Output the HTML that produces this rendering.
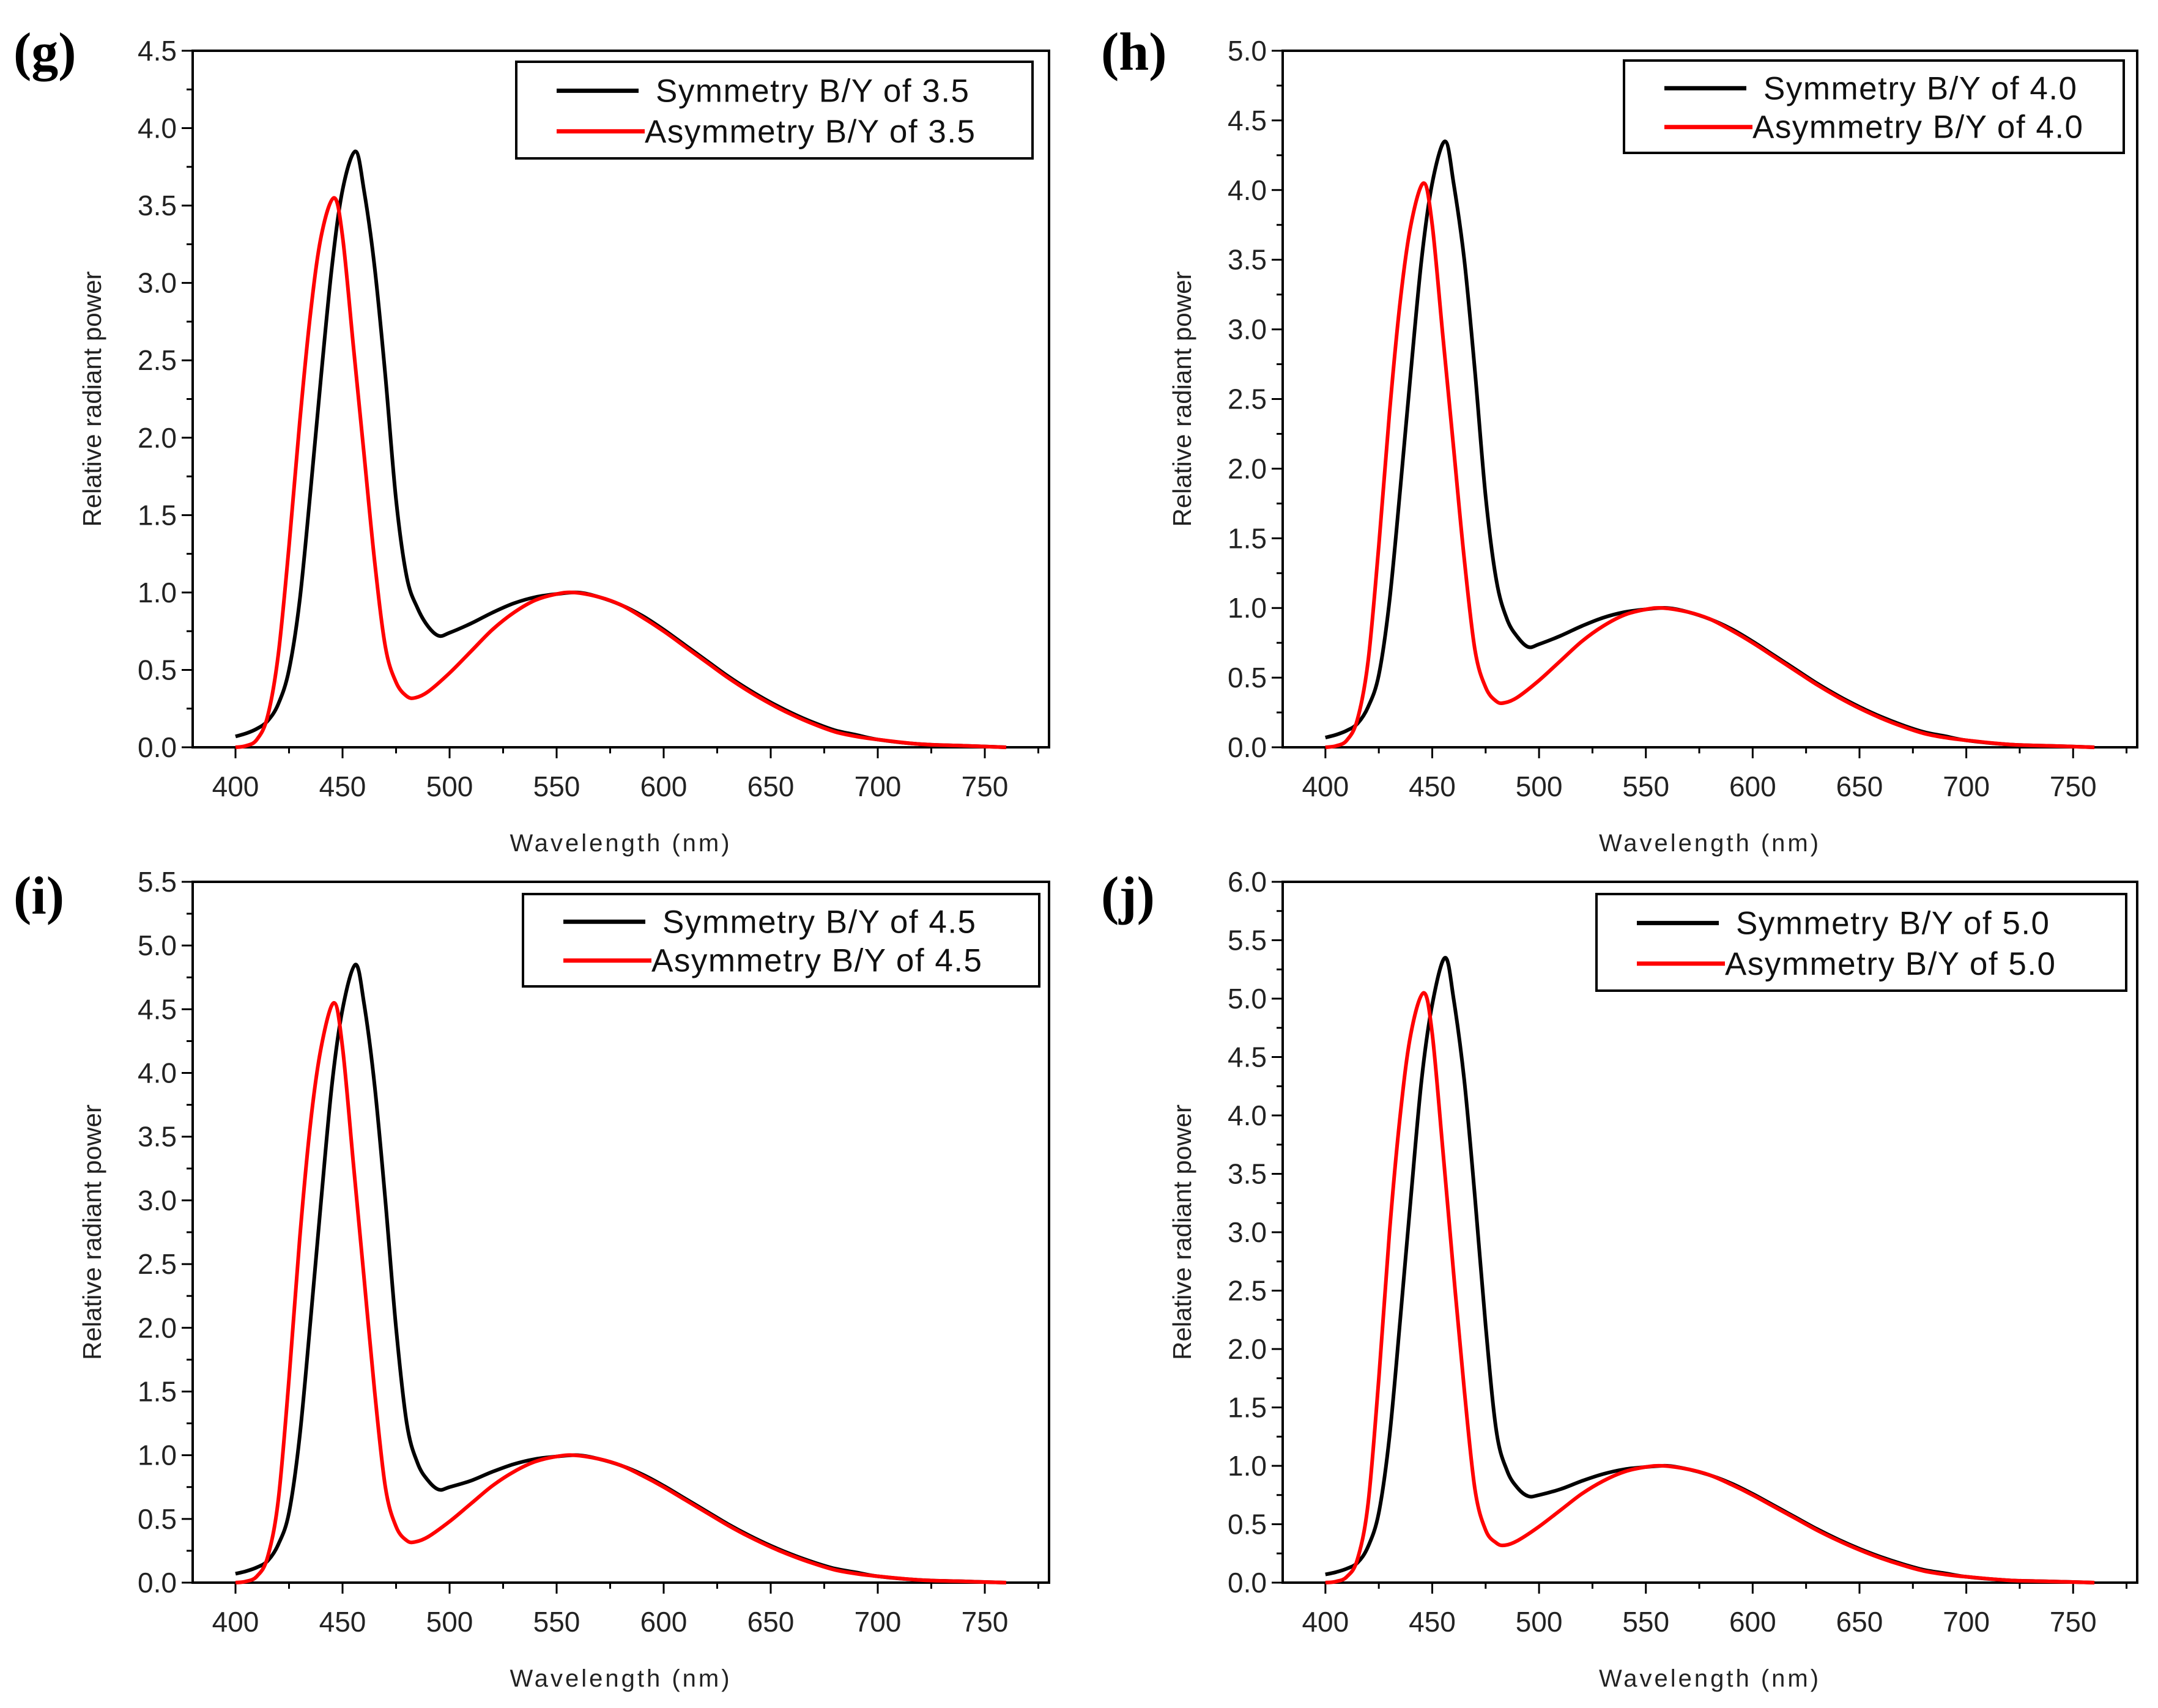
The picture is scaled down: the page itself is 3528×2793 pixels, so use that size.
<!DOCTYPE html>
<html><head><meta charset="utf-8"><style>
html,body{margin:0;padding:0;background:#fff;}
svg{display:block;font-family:"Liberation Sans",Arial,sans-serif;}
</style></head><body>
<svg id="fig" width="3528" height="2793" viewBox="0 0 3528 2793" xmlns="http://www.w3.org/2000/svg"></svg>
<script>
const wlSym=[400,405,410,415,420,425,430,435,440,445,450,456,460,465,470,475,480,485,490,495,500,510,520,530,540,550,560,570,580,590,600,610,620,630,640,650,660,670,680,690,700,720,740,760];
const symG=[0.07,0.09,0.12,0.17,0.28,0.5,0.95,1.65,2.4,3.1,3.6,3.85,3.6,3.1,2.4,1.6,1.1,0.9,0.78,0.72,0.74,0.8,0.87,0.93,0.97,0.99,1.0,0.97,0.92,0.85,0.76,0.66,0.56,0.46,0.37,0.29,0.22,0.16,0.11,0.08,0.05,0.02,0.01,0.0];
const symH=[0.07,0.09,0.12,0.17,0.29,0.52,1.05,1.85,2.7,3.5,4.05,4.35,4.05,3.5,2.7,1.8,1.2,0.92,0.79,0.72,0.74,0.8,0.87,0.93,0.97,0.99,1.0,0.97,0.92,0.85,0.76,0.66,0.56,0.46,0.37,0.29,0.22,0.16,0.11,0.08,0.05,0.02,0.01,0.0];
const symI=[0.07,0.09,0.12,0.17,0.3,0.55,1.15,2.05,3.0,3.9,4.5,4.85,4.55,3.9,3.0,2.0,1.25,0.94,0.8,0.73,0.75,0.8,0.87,0.93,0.97,0.99,1.0,0.97,0.92,0.85,0.76,0.66,0.56,0.46,0.37,0.29,0.22,0.16,0.11,0.08,0.05,0.02,0.01,0.0];
const symJ=[0.07,0.09,0.12,0.17,0.31,0.6,1.25,2.25,3.3,4.3,4.95,5.35,5.0,4.3,3.3,2.2,1.3,0.96,0.81,0.74,0.75,0.8,0.87,0.93,0.97,0.99,1.0,0.97,0.92,0.85,0.76,0.66,0.56,0.46,0.37,0.29,0.22,0.16,0.11,0.08,0.05,0.02,0.01,0.0];
const wlAsym=[400,405,410,415,420,425,430,435,440,446,450,455,460,465,470,475,480,484,490,500,510,520,530,540,550,558,570,580,590,600,610,620,630,640,650,660,670,680,690,700,720,740,760];
const asymG=[0,0.01,0.05,0.2,0.6,1.3,2.1,2.8,3.3,3.55,3.3,2.6,1.9,1.2,0.65,0.42,0.33,0.32,0.36,0.48,0.62,0.76,0.87,0.95,0.99,1.0,0.97,0.92,0.84,0.75,0.65,0.55,0.45,0.36,0.28,0.21,0.15,0.1,0.07,0.05,0.02,0.01,0];
const asymH=[0,0.01,0.05,0.2,0.62,1.45,2.4,3.2,3.75,4.05,3.75,2.95,2.15,1.35,0.7,0.43,0.33,0.32,0.36,0.48,0.62,0.76,0.87,0.95,0.99,1.0,0.97,0.92,0.84,0.75,0.65,0.55,0.45,0.36,0.28,0.21,0.15,0.1,0.07,0.05,0.02,0.01,0];
const asymI=[0,0.01,0.05,0.2,0.65,1.6,2.7,3.6,4.2,4.55,4.2,3.3,2.4,1.5,0.75,0.44,0.33,0.32,0.36,0.48,0.62,0.76,0.87,0.95,0.99,1.0,0.97,0.92,0.84,0.75,0.65,0.55,0.45,0.36,0.28,0.21,0.15,0.1,0.07,0.05,0.02,0.01,0];
const asymJ=[0,0.01,0.05,0.2,0.68,1.75,3.0,4.0,4.7,5.05,4.7,3.7,2.65,1.65,0.8,0.45,0.34,0.32,0.36,0.48,0.62,0.76,0.87,0.95,0.99,1.0,0.97,0.92,0.84,0.75,0.65,0.55,0.45,0.36,0.28,0.21,0.15,0.1,0.07,0.05,0.02,0.01,0];
const xTicks=[400,450,500,550,600,650,700,750];
const ratios=["3.5","4.0","4.5","5.0"];
const yMaxes=[4.5,5.0,5.5,6.0];
const panelLabels=["(g)","(h)","(i)","(j)"];

const NS="http://www.w3.org/2000/svg";
const svg=document.getElementById('fig');
function mk(tag,attrs,parent,text){const e=document.createElementNS(NS,tag);for(const k in attrs)e.setAttribute(k,attrs[k]);if(text!==undefined)e.textContent=text;(parent||svg).appendChild(e);return e;}
const layouts=[
 {L:315,R:1715,T:83,B:1222,lab:[22,100],leg:[844,101,1688,259]},
 {L:2097,R:3494,T:83,B:1222,lab:[1800,100],leg:[2655,99,3472,250]},
 {L:315,R:1715,T:1442,B:2588,lab:[22,1480],leg:[855,1462,1699,1613]},
 {L:2097,R:3494,T:1442,B:2588,lab:[1800,1480],leg:[2610,1462,3476,1620]}
];
const symData=[symG,symH,symI,symJ], asymData=[asymG,asymH,asymI,asymJ];
function smooth(pts){let d='M'+pts[0][0].toFixed(1)+','+pts[0][1].toFixed(1);
 for(let i=0;i<pts.length-1;i++){const p0=pts[Math.max(0,i-1)],p1=pts[i],p2=pts[i+1],p3=pts[Math.min(pts.length-1,i+2)];
  const c1=[p1[0]+(p2[0]-p0[0])/6,p1[1]+(p2[1]-p0[1])/6],c2=[p2[0]-(p3[0]-p1[0])/6,p2[1]-(p3[1]-p1[1])/6];
  d+=' C'+c1[0].toFixed(1)+','+c1[1].toFixed(1)+' '+c2[0].toFixed(1)+','+c2[1].toFixed(1)+' '+p2[0].toFixed(1)+','+p2[1].toFixed(1);}
 return d;}
layouts.forEach((Lo,pi)=>{
 const g=mk('g',{});
 
 
 const ymax=yMaxes[pi];
 const X=v=>Lo.L+(v-380)/(780-380)*(Lo.R-Lo.L);
 const Y=v=>Lo.B-v/ymax*(Lo.B-Lo.T);
 for(let v=400;v<=775;v+=25){const maj=v%50===0;mk('line',{x1:X(v),x2:X(v),y1:Lo.B,y2:Lo.B+(maj?18:10),stroke:'#000','stroke-width':3},g);}
 xTicks.forEach(v=>{const t=mk('text',{x:X(v),y:Lo.B+80,'font-size':46,'text-anchor':'middle',fill:'#222'},g,String(v));
  
  });
 for(let k=0;k<=Math.round(ymax*4);k++){const v=k*0.25;const maj=k%2===0;
  mk('line',{x1:Lo.L,x2:Lo.L-(maj?18:10),y1:Y(v),y2:Y(v),stroke:'#000','stroke-width':3},g);
  if(maj){const t=mk('text',{x:Lo.L-26,y:Y(v)+16,'font-size':46,'text-anchor':'end',fill:'#222'},g,v.toFixed(1));
   
   }}
 const fr=mk('rect',{x:Lo.L,y:Lo.T,width:Lo.R-Lo.L,height:Lo.B-Lo.T,fill:'none',stroke:'#000','stroke-width':4},g);
 
 
 const xt=mk('text',{x:(Lo.L+Lo.R)/2,y:Lo.B+170,'font-size':40,'text-anchor':'middle',fill:'#222','letter-spacing':'4'},g,'Wavelength (nm)');
 
 
 const yc=(Lo.T+Lo.B)/2, yx=Lo.L-150;
 const yt=mk('text',{x:yx,y:yc,'font-size':42,'text-anchor':'middle',fill:'#222',transform:`rotate(-90 ${yx} ${yc})`},g,'Relative radiant power');
 
 
 const sp=mk('path',{d:smooth(wlSym.map((w,i)=>[X(w),Y(symData[pi][i])])),fill:'none',stroke:'#000','stroke-width':6,'stroke-linejoin':'round'},g);
 
 
 const ap=mk('path',{d:smooth(wlAsym.map((w,i)=>[X(w),Y(asymData[pi][i])])),fill:'none',stroke:'#ff0000','stroke-width':6,'stroke-linejoin':'round'},g);
 
 
 const [lx1,ly1,lx2,ly2]=Lo.leg;
 const lg=mk('g',{},g);
 
 
 mk('rect',{x:lx1,y:ly1,width:lx2-lx1,height:ly2-ly1,fill:'#fff',stroke:'#000','stroke-width':4},lg);
 const r1=ly1+(ly2-ly1)*0.3, r2=ly1+(ly2-ly1)*0.72;
 mk('line',{x1:lx1+66,x2:lx1+200,y1:r1,y2:r1,stroke:'#000','stroke-width':7},lg);
 mk('line',{x1:lx1+66,x2:lx1+210,y1:r2,y2:r2,stroke:'#ff0000','stroke-width':7},lg);
 const e1=mk('text',{x:lx1+228,y:r1+18,'font-size':53,fill:'#111','letter-spacing':'1.5'},lg,'Symmetry B/Y of '+ratios[pi]);
 
 
 const e2=mk('text',{x:lx1+210,y:r2+18,'font-size':53,fill:'#111','letter-spacing':'1.5'},lg,'Asymmetry B/Y of '+ratios[pi]);
 
 
 const pl=mk('text',{x:Lo.lab[0],y:Lo.lab[1]+14,'font-size':88,'font-weight':'bold','font-family':'"Liberation Serif",serif',fill:'#000'},g,panelLabels[pi]);
 
 
});
</script>
</body></html>
